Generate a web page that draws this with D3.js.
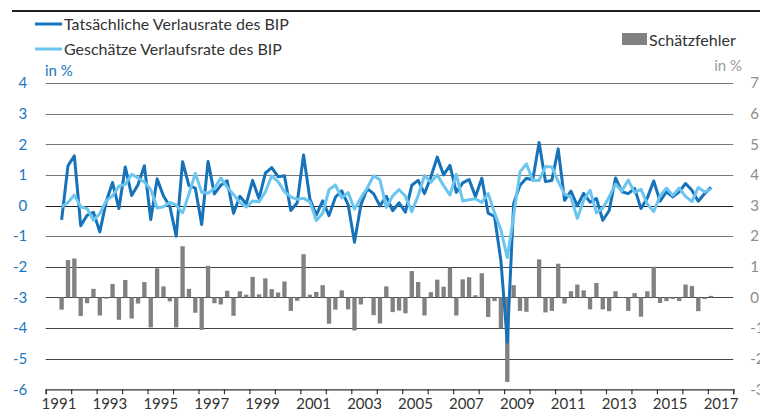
<!DOCTYPE html>
<html><head><meta charset="utf-8">
<script src="https://cdn.jsdelivr.net/npm/d3@7"></script>
<style>
body{margin:0;background:#fff;overflow:hidden}
svg{display:block;font-family:Lato,"Noto Sans",sans-serif}
</style>
</head><body>
<svg id="c" width="760" height="414"></svg>
<script>
// ---- data ----
const years = d3.range(1991, 2018);                 // 1991..2017
const yearLabels = ["1991","1993","1995","1997","1999","2001","2003","2005","2007","2009","2011","2013","2015","2017"];
const quarterNames = ["Q1","Q2","Q3","Q4"];
const firstQuarter = "1991Q3";
const leftTicks = [4,3,2,1,0,-1,-2,-3,-4,-5,-6];
const rightTicks = [7,6,5,4,3,2,1,0,-1,-2,-3];

// Tatsächliche Verlaufsrate des BIP (in %), 1991Q3 .. 2017Q1
const actual = [
  -0.47, 1.30,
  1.62, -0.66, -0.32, -0.22,
  -0.86, 0.12, 0.75, -0.10,
  1.26, 0.33, 0.68, 1.30,
  -0.46, 0.87, 0.31, -0.03,
  -1.00, 1.43, 0.65, 0.57,
  -0.62, 1.44, 0.38, 0.66,
  0.81, -0.25, 0.30, 0.05,
  0.82, 0.22, 1.06, 1.24,
  0.94, 0.97, -0.16, 0.09,
  1.65, 0.21, -0.31, 0.15,
  -0.33, 0.27, 0.48, 0.03,
  -1.20, 0.02, 0.55, 0.39,
  -0.01, 0.30, -0.17, 0.09,
  -0.22, 0.66, 0.82, 0.39,
  0.93, 1.58, 1.00, 1.31,
  0.43, 0.74, 0.85, 0.29,
  0.89, -0.25, -0.36, -1.81,
  -4.46, 0.07, 0.66, 0.89,
  0.84, 2.06, 0.78, 0.82,
  1.85, 0.17, 0.47, -0.01,
  0.40, 0.11, 0.23, -0.48,
  -0.17, 0.90, 0.45, 0.39,
  0.56, -0.10, 0.25, 0.80,
  0.14, 0.45, 0.28, 0.45,
  0.72, 0.50, 0.14, 0.39,
  0.59
];
// Geschätzte Verlaufsrate des BIP (in %)
const estimated = [
  -0.04, 0.10,
  0.34, -0.04, -0.10, -0.48,
  -0.26, 0.15, 0.32, 0.63,
  0.69, 1.02, 0.90, 0.77,
  0.52, -0.08, -0.04, 0.10,
  0.01, -0.24, 0.38, 1.05,
  0.43, 0.40, 0.56, 0.90,
  0.60, 0.36, 0.10, -0.05,
  0.15, 0.12, 0.44, 0.97,
  0.78, 0.45, 0.28, 0.20,
  0.24, 0.12, -0.49, -0.25,
  0.52, 0.67, 0.25, 0.42,
  -0.12, 0.25, 0.57, 0.97,
  0.84, -0.06, 0.31, 0.52,
  0.30, -0.20, 0.32, 0.98,
  0.76, 1.00, 0.65, 0.34,
  1.02, 0.15, 0.19, 0.22,
  0.10, 0.39, -0.24, -0.80,
  -1.70, -0.33, 1.10, 1.36,
  0.82, 0.82, 1.27, 1.26,
  0.78, 0.37, 0.27, -0.42,
  0.17, 0.50, -0.24, -0.09,
  0.28, 0.70, 0.47, 0.83,
  0.42, 0.53, 0.05, -0.20,
  0.32, 0.57, 0.33, 0.57,
  0.30, 0.13, 0.59, 0.44,
  0.54
];
// Schätzfehler (right axis, in %)
const errors = [
  -0.40, 1.22,
  1.27, -0.61, -0.19, 0.28,
  -0.59, -0.04, 0.44, -0.73,
  0.57, -0.69, -0.20, 0.50,
  -0.98, 0.95, 0.36, -0.13,
  -0.98, 1.67, 0.28, -0.50,
  -1.06, 1.03, -0.19, -0.23,
  0.22, -0.60, 0.20, 0.09,
  0.67, 0.10, 0.62, 0.27,
  0.16, 0.52, -0.44, -0.11,
  1.41, 0.09, 0.18, 0.40,
  -0.86, -0.40, 0.23, -0.39,
  -1.08, -0.23, -0.02, -0.58,
  -0.85, 0.36, -0.48, -0.43,
  -0.52, 0.86, 0.50, -0.59,
  0.17, 0.58, 0.35, 0.97,
  -0.59, 0.59, 0.66, 0.07,
  0.79, -0.64, -0.12, -1.01,
  -2.76, 0.40, -0.44, -0.47,
  0.02, 1.24, -0.49, -0.44,
  1.10, -0.20, 0.20, 0.42,
  0.23, -0.39, 0.47, -0.39,
  -0.45, 0.20, -0.02, -0.44,
  0.14, -0.63, 0.20, 1.00,
  -0.18, -0.12, -0.05, -0.12,
  0.42, 0.37, -0.45, -0.05,
  0.05
];

// ---- categories ----
const quarters = years.flatMap(y => quarterNames.map(q => y + q));
const startIdx = quarters.indexOf(firstQuarter);
const rows = actual.map((a, i) => ({q: quarters[startIdx + i], act: a, est: estimated[i], err: errors[i]}));

// ---- layout ----
const L = 45.7, R = 733.3, T = 83, B = 389.3;
const svg = d3.select("#c");
const darkBlue = "#1673b9", lightBlue = "#6cc5ef", barGray = "#808181";

const x = d3.scaleBand().domain(quarters).range([L, R]).padding(0);
const xYear = d3.scaleLinear().domain([years[0], years[years.length-1] + 1]).range([L, R]);
const yL = d3.scaleLinear().domain([-6, 4]).range([B, T]);
const yR = d3.scaleLinear().domain([-3, 7]).range([B, T]);
const cx = q => x(q) + x.bandwidth() / 2;

// top rule
svg.append("rect").attr("x", 12).attr("y", 10).attr("width", 748).attr("height", 2).attr("fill", "#231f20");

// gridlines
svg.append("g").selectAll("line").data(leftTicks.filter(t => t > -6)).join("line")
  .attr("x1", L).attr("x2", R)
  .attr("y1", d => Math.round(yL(d)) + 0.5).attr("y2", d => Math.round(yL(d)) + 0.5)
  .attr("stroke", d => d === 0 ? "#222" : (d <= -2 ? "#444" : "#777"))
  .attr("stroke-width", 1);

// bars (right axis)
const bw = x.bandwidth() * 0.68;
svg.append("g").selectAll("rect").data(rows).join("rect")
  .attr("x", d => cx(d.q) - bw / 2)
  .attr("width", bw)
  .attr("y", d => yR(Math.max(0, d.err)))
  .attr("height", d => Math.abs(yR(d.err) - yR(0)))
  .attr("fill", barGray);

// lines
const line = key => d3.line().x(d => cx(d.q)).y(d => yL(d[key]));
svg.append("path").datum(rows).attr("d", line("act"))
  .attr("fill", "none").attr("stroke", darkBlue).attr("stroke-width", 3)
  .attr("stroke-linejoin", "round").attr("stroke-linecap", "butt");
svg.append("path").datum(rows).attr("d", line("est"))
  .attr("fill", "none").attr("stroke", lightBlue).attr("stroke-width", 3)
  .attr("stroke-linejoin", "round").attr("stroke-linecap", "butt");

// x axis: year ticks
const xAxisG = svg.append("g").attr("transform", `translate(0,${B})`);
xAxisG.call(d3.axisBottom(xYear).tickValues(d3.range(years[0], years[years.length-1] + 2)).tickSize(5).tickFormat(""));
xAxisG.selectAll("line,path").attr("stroke", "#333").attr("stroke-width", 1.2);
// year labels centered in year interval
const xLab = svg.append("g").attr("transform", `translate(0,${B})`);
xLab.call(d3.axisBottom(xYear).tickValues(yearLabels.map(s => +s + 0.5)).tickSize(0).tickPadding(9)
  .tickFormat(d => String(Math.floor(d))));
xLab.select(".domain").remove();
xLab.selectAll("text").attr("font-size", 15).attr("fill", "#333").attr("font-family", "Lato, 'Noto Sans', sans-serif");

// left axis labels
const yAxL = svg.append("g").attr("transform", `translate(${L},0)`)
  .call(d3.axisLeft(yL).tickValues(leftTicks).tickSize(0).tickPadding(18.5).tickFormat(d => String(d)));
yAxL.select(".domain").remove();
yAxL.selectAll("text").attr("font-size", 15).attr("fill", "#1a78c2").attr("font-family", "Lato, 'Noto Sans', sans-serif");

// right axis labels
const yAxR = svg.append("g").attr("transform", `translate(${R},0)`)
  .call(d3.axisRight(yR).tickValues(rightTicks).tickSize(0).tickPadding(17).tickFormat(d => String(d)));
yAxR.select(".domain").remove();
yAxR.selectAll("text").attr("font-size", 15).attr("fill", "#8c8c8c").attr("font-family", "Lato, 'Noto Sans', sans-serif");

// unit labels
svg.append("text").attr("x", 45).attr("y", 76).attr("font-size", 15).attr("fill", "#1a78c2").text("in %");
svg.append("text").attr("x", 742).attr("y", 71).attr("text-anchor", "end").attr("font-size", 15).attr("fill", "#9a9a9a").text("in %");

// legend
const legend = [
  {label: "Tatsächliche Verlausrate des BIP", color: darkBlue, y: 24},
  {label: "Geschätze Verlaufsrate des BIP", color: lightBlue, y: 49}
];
const lg = svg.append("g");
legend.forEach(d => {
  lg.append("line").attr("x1", 35).attr("x2", 62).attr("y1", d.y).attr("y2", d.y)
    .attr("stroke", d.color).attr("stroke-width", 3);
  lg.append("text").attr("x", 64).attr("y", d.y + 5.5).attr("font-size", 16).attr("fill", "#333").text(d.label);
});
lg.append("rect").attr("x", 622).attr("y", 33).attr("width", 25).attr("height", 12).attr("fill", barGray);
lg.append("text").attr("x", 649).attr("y", 45.5).attr("font-size", 16).attr("fill", "#333").text("Schätzfehler");
</script>
</body></html>
